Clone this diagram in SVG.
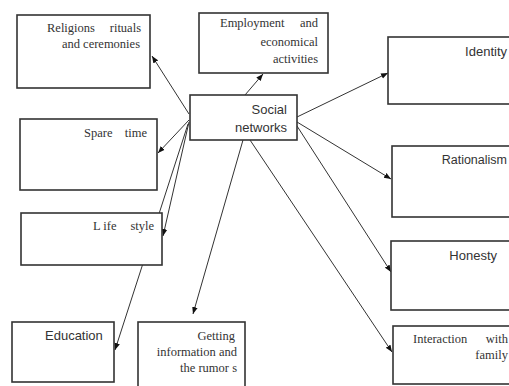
<svg xmlns="http://www.w3.org/2000/svg" width="509" height="386" viewBox="0 0 509 386">
<style>
.box{fill:#fff;stroke:#333;stroke-width:1.6}
.s{font-family:"Liberation Sans",Arial,sans-serif;font-size:13px;fill:#333}
.r{font-family:"Liberation Serif","Times New Roman",serif;font-size:12.5px;fill:#333}
.c line{stroke:#333;stroke-width:1;marker-end:url(#a)}
</style>
<defs>
<marker id="a" viewBox="0 0 10 10" refX="10" refY="5" markerWidth="7" markerHeight="7" orient="auto" markerUnits="userSpaceOnUse">
<path d="M0,1 L10,5 L0,9 z" fill="#111"/>
</marker>
</defs>
<rect width="509" height="386" fill="#fff"/>
<g class="c">
<line x1="189" y1="114" x2="152" y2="56"/>
<line x1="245" y1="95" x2="263" y2="74"/>
<line x1="297" y1="117" x2="388" y2="73"/>
<line x1="189" y1="120" x2="158" y2="153"/>
<line x1="189" y1="122" x2="163" y2="236"/>
<line x1="188" y1="124" x2="115" y2="350"/>
<line x1="243" y1="140" x2="193" y2="314"/>
<line x1="297" y1="122" x2="391" y2="179"/>
<line x1="297" y1="126" x2="391" y2="272"/>
<line x1="250" y1="140" x2="392" y2="352"/>
</g>
<g id="religions"><rect class="box" x="17" y="15" width="133" height="73"/><text class="r" x="47" y="32">Religions</text><text class="r" x="141" y="32" text-anchor="end">rituals</text><text class="r" x="140" y="48" text-anchor="end">and ceremonies</text></g>
<g id="employment"><rect class="box" x="199" y="13" width="129" height="60"/><text class="r" x="220" y="27">Employment</text><text class="r" x="318" y="27" text-anchor="end">and</text><text class="r" x="318" y="46" text-anchor="end">economical</text><text class="r" x="318" y="63" text-anchor="end">activities</text></g>
<g id="social"><rect class="box" x="190" y="95" width="107" height="45"/><text class="s" x="287" y="114" text-anchor="end">Social</text><text class="s" x="287" y="132" text-anchor="end">networks</text></g>
<g id="identity"><rect class="box" x="388" y="37" width="130" height="67"/><text class="s" x="507" y="56" text-anchor="end">Identity</text></g>
<g id="spare"><rect class="box" x="20" y="119" width="137" height="71"/><text class="r" x="84" y="137">Spare</text><text class="r" x="147" y="137" text-anchor="end">time</text></g>
<g id="life"><rect class="box" x="21" y="213" width="141" height="52"/><text class="r" x="93" y="230">L ife</text><text class="r" x="154" y="230" text-anchor="end">style</text></g>
<g id="rationalism"><rect class="box" x="392" y="146" width="130" height="71"/><text class="s" x="507" y="164" text-anchor="end" style="font-size:12.5px">Rationalism</text></g>
<g id="honesty"><rect class="box" x="391" y="241" width="130" height="69"/><text class="s" x="497" y="260" text-anchor="end">Honesty</text></g>
<g id="interaction"><rect class="box" x="393" y="326" width="130" height="58"/><text class="r" x="413" y="343">Interaction</text><text class="r" x="508" y="343" text-anchor="end">with</text><text class="r" x="508" y="359" text-anchor="end">family</text></g>
<g id="education"><rect class="box" x="12" y="322" width="102" height="60"/><text class="s" x="45" y="340">Education</text></g>
<g id="getting"><rect class="box" x="138" y="322" width="107" height="70"/><text class="r" x="235" y="340" text-anchor="end">Getting</text><text class="r" x="237" y="356" text-anchor="end">information and</text><text class="r" x="237" y="372" text-anchor="end">the rumor s</text></g>
</svg>
